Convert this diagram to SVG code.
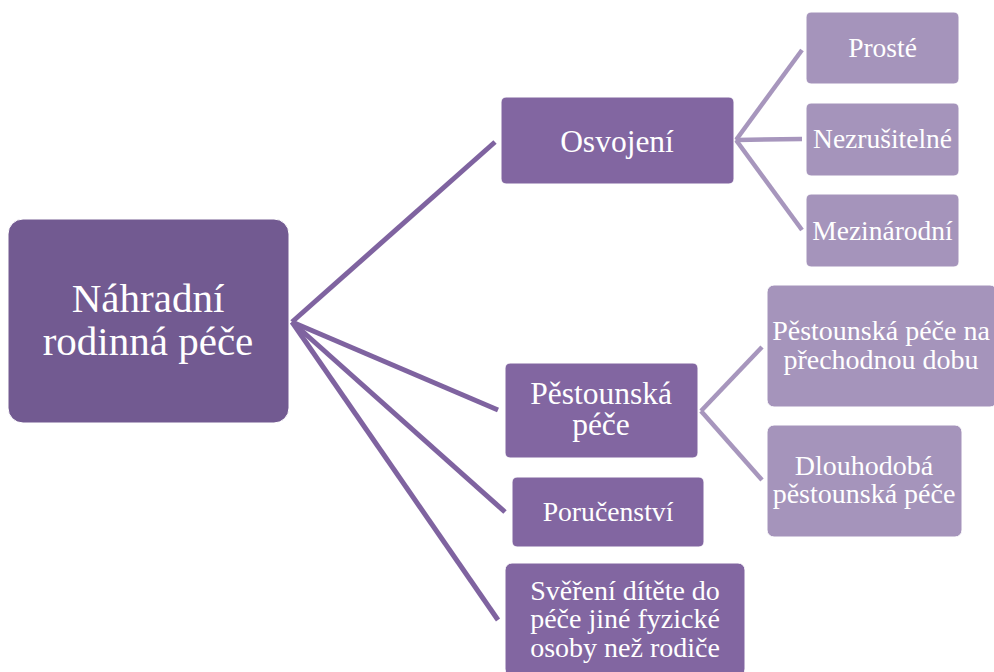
<svg xmlns="http://www.w3.org/2000/svg" width="994" height="672" viewBox="0 0 994 672">
<style>
text{font-family:"Liberation Serif","Times New Roman",serif;fill:#ffffff;text-anchor:middle}
.r{fill:#725a91;stroke:#ffffff;stroke-width:1}
.l1{fill:#8266a1;stroke:#ffffff;stroke-width:1}
.l2{fill:#a594bb;stroke:#ffffff;stroke-width:1}
.c1{stroke:#7f63a0;stroke-width:5;fill:none}
.c2{stroke:#a796bd;stroke-width:4.5;fill:none}
</style>
<rect width="994" height="672" fill="#ffffff"/>
<g id="connectors">
<line class="c1" x1="292" y1="322" x2="495" y2="142"/>
<line class="c1" x1="292" y1="322" x2="498" y2="410"/>
<line class="c1" x1="292" y1="322" x2="505" y2="512"/>
<line class="c1" x1="292" y1="322" x2="498" y2="620"/>
<line class="c2" x1="736" y1="140" x2="802" y2="50"/>
<line class="c2" x1="736" y1="140" x2="802" y2="139"/>
<line class="c2" x1="736" y1="140" x2="802" y2="230"/>
<line class="c2" x1="701" y1="411" x2="762" y2="347"/>
<line class="c2" x1="701" y1="411" x2="762" y2="480"/>
</g>
<g id="root">
<rect class="r" x="8" y="219" width="281" height="204" rx="15"/>
<text x="148" y="312" font-size="41">Náhradní</text>
<text x="148" y="355" font-size="41">rodinná péče</text>
</g>
<g id="osvojeni">
<rect class="l1" x="501" y="97" width="233" height="87" rx="5"/>
<text x="617" y="152" font-size="31.5">Osvojení</text>
</g>
<g id="proste">
<rect class="l2" x="806" y="12" width="153" height="72" rx="5"/>
<text x="882.5" y="57" font-size="27.5">Prosté</text>
</g>
<g id="nezrusitelne">
<rect class="l2" x="806" y="103" width="153" height="73" rx="5"/>
<text x="882.5" y="148" font-size="27.5">Nezrušitelné</text>
</g>
<g id="mezinarodni">
<rect class="l2" x="806" y="194" width="153" height="73" rx="5"/>
<text x="882.5" y="240" font-size="27.5">Mezinárodní</text>
</g>
<g id="pestounska">
<rect class="l1" x="505" y="363" width="193" height="95" rx="5"/>
<text x="601" y="404" font-size="31.5">Pěstounská</text>
<text x="601" y="435" font-size="31.5">péče</text>
</g>
<g id="prechodna">
<rect class="l2" x="767" y="285" width="230" height="122" rx="7"/>
<text x="881" y="340" font-size="28">Pěstounská péče na</text>
<text x="881" y="369" font-size="28">přechodnou dobu</text>
</g>
<g id="dlouhodoba">
<rect class="l2" x="767" y="425" width="195" height="112" rx="7"/>
<text x="864" y="475" font-size="28">Dlouhodobá</text>
<text x="864" y="503" font-size="28">pěstounská péče</text>
</g>
<g id="porucenstvi">
<rect class="l1" x="512" y="477" width="192" height="70" rx="5"/>
<text x="608" y="521" font-size="27.7">Poručenství</text>
</g>
<g id="sverení">
<rect class="l1" x="505" y="563" width="240" height="113" rx="7"/>
<text x="625" y="600" font-size="28">Svěření dítěte do</text>
<text x="625" y="628" font-size="28">péče jiné fyzické</text>
<text x="625" y="657" font-size="28">osoby než rodiče</text>
</g>
</svg>
